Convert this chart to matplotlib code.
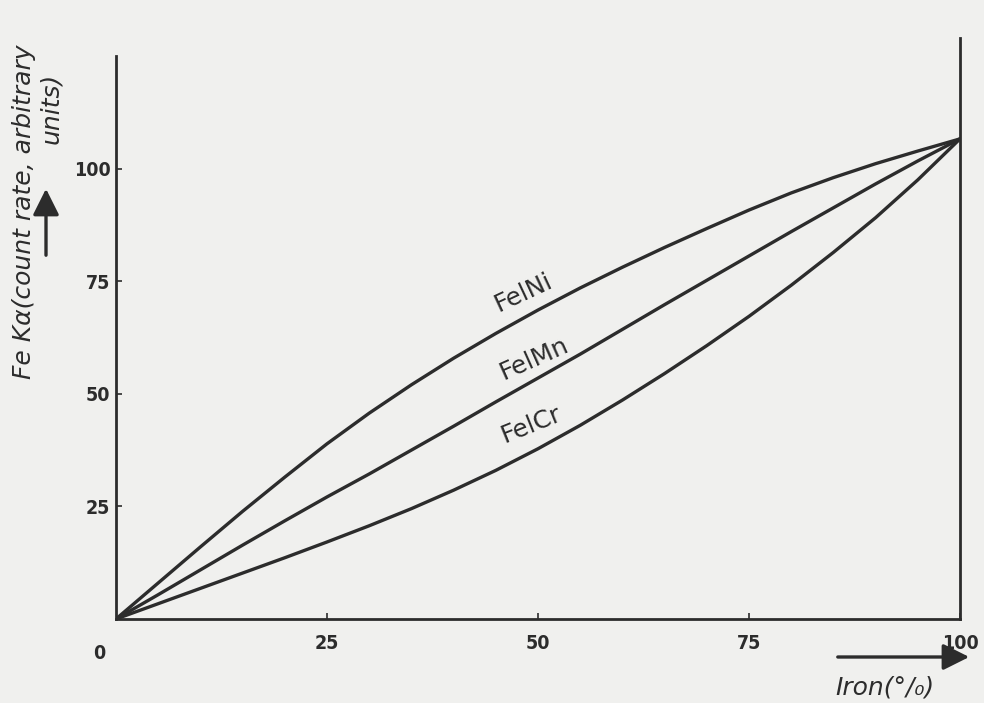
import matplotlib
matplotlib.use("Agg")
import matplotlib.pyplot as plt

# Data
iron_pct = [0, 5, 10, 15, 20, 25, 30, 35, 40, 45, 50, 55, 60, 65, 70, 75, 80, 85, 90, 95, 100]
fe_ni = [0, 8.0, 16.0, 23.9, 31.5, 38.9, 45.7, 52.0, 57.9, 63.4, 68.6, 73.5, 78.1, 82.5, 86.7, 90.8, 94.6, 98.0, 101.1, 103.9, 106.6]
fe_mn = [0, 5.4, 10.9, 16.4, 21.8, 27.1, 32.2, 37.5, 42.8, 48.2, 53.5, 58.8, 64.3, 69.8, 75.2, 80.6, 86.0, 91.3, 96.6, 101.7, 106.6]
fe_cr = [0, 3.4, 6.8, 10.2, 13.6, 17.1, 20.7, 24.5, 28.6, 33.0, 37.8, 43.0, 48.6, 54.5, 60.7, 67.2, 74.1, 81.4, 89.1, 97.5, 106.6]
series_names = ["FelNi", "FelMn", "FelCr"]
x_ticks = [25, 50, 75, 100]
y_ticks = [25, 50, 75, 100]

ink = "#2c2c2c"
paper = "#f0f0ee"

fig = plt.figure(figsize=(9.84, 7.03), dpi=100, facecolor=paper)
ax = fig.add_axes([116/984, (703-619)/703, (960-116)/984, (619-38)/703])
ax.set_facecolor(paper)

for ys in (fe_ni, fe_mn, fe_cr):
    ax.plot(iron_pct, ys, color=ink, lw=2.4, solid_capstyle="round", solid_joinstyle="round")

ax.set_xlim(0, 100)
ax.set_ylim(0, 129)

for s in ("left", "bottom", "right"):
    ax.spines[s].set_color(ink)
    ax.spines[s].set_linewidth(2.0)
ax.spines["top"].set_visible(False)
ax.spines["left"].set_bounds(0, 125)

tick_font = dict(family="DejaVu Sans", fontsize=14, fontweight="bold", color=ink, fontstretch="condensed")
ax.set_xticks(x_ticks)
ax.set_xticklabels([str(v) for v in x_ticks], **tick_font)
ax.set_yticks(y_ticks)
ax.set_yticklabels([str(v) for v in y_ticks], **tick_font)
ax.tick_params(axis="both", direction="in", length=4, width=1.2, colors=ink)
ax.tick_params(axis="x", pad=11)
ax.tick_params(axis="y", pad=4)
ax.text(-1.2, -5.5, "0", ha="right", va="top", **tick_font)

# curve labels
lab = dict(fontsize=18, color=ink, ha="center", va="bottom")
ax.text(48.3, 67.2, series_names[0], rotation=25, **lab)
ax.text(49.5, 52.0, series_names[1], rotation=24, **lab)
ax.text(49.2, 38.0, series_names[2], rotation=22, **lab)

# y-axis label with arrow
fig.text(24/984, 1 - 212/703, "Fe K\u03b1(count rate, arbitrary", rotation=90, ha="center", va="center",
         fontsize=18, color=ink, style="italic")
fig.text(51/984, 1 - 108/703, "units)", rotation=90, ha="center", va="center",
         fontsize=18, color=ink, style="italic")
fig.add_artist(matplotlib.patches.FancyArrowPatch((46/984, 1 - 258/703), (46/984, 1 - 186/703),
               transform=fig.transFigure, arrowstyle="-|>,head_length=8,head_width=4",
               color=ink, lw=2.4, mutation_scale=2))

# x-axis label with arrow
fig.add_artist(matplotlib.patches.FancyArrowPatch((835/984, 1 - 657/703), (972/984, 1 - 657/703),
               transform=fig.transFigure, arrowstyle="-|>,head_length=8,head_width=4",
               color=ink, lw=2.4, mutation_scale=2))
fig.text(885/984, 1 - 687/703, "Iron(\u00b0/\u2080)", ha="center", va="center",
         fontsize=18, color=ink, style="italic")

fig.savefig("out.png", dpi=100, facecolor=paper)
